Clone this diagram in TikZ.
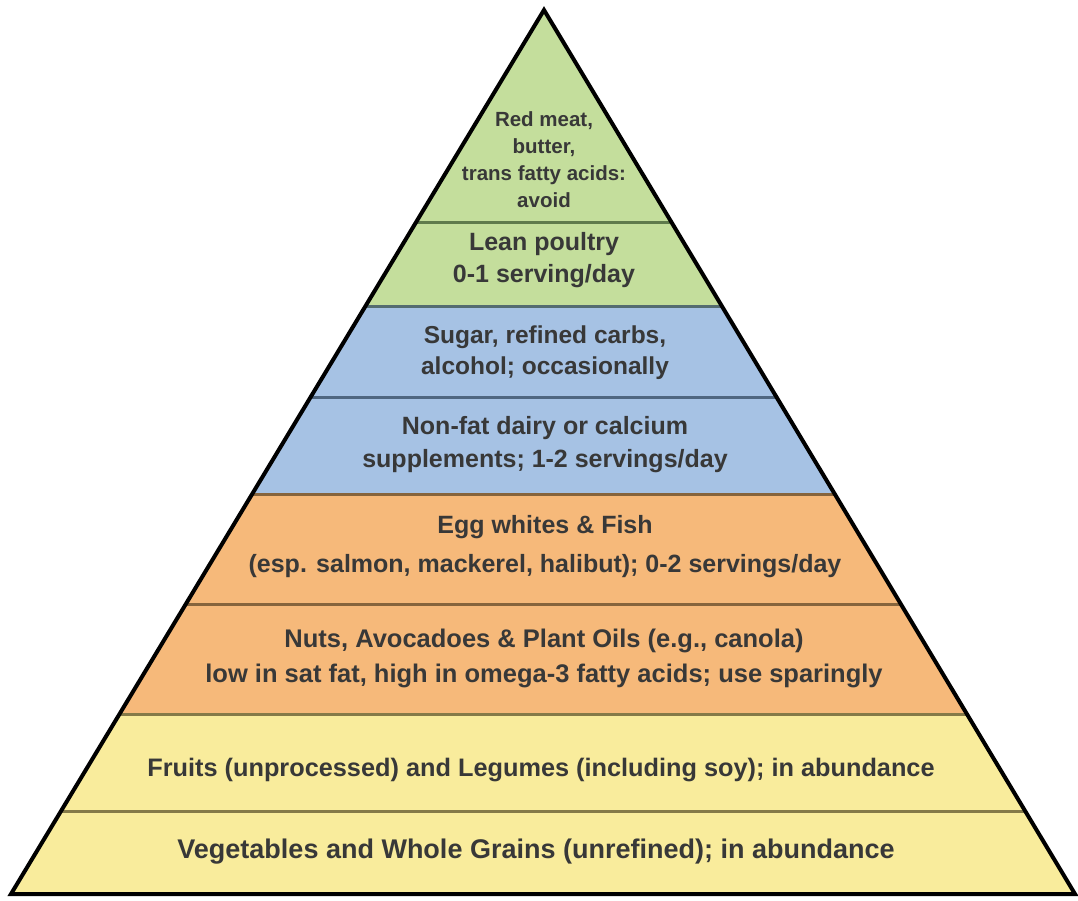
\documentclass[tikz,border=0pt]{standalone}
\usepackage{fontspec}
\setmainfont{Liberation Sans}
\definecolor{gfill}{HTML}{C4DE9C}
\definecolor{gline}{HTML}{5F7A4C}
\definecolor{bfill}{HTML}{A6C2E4}
\definecolor{bline}{HTML}{4F6680}
\definecolor{ofill}{HTML}{F6B97A}
\definecolor{oline}{HTML}{86643C}
\definecolor{yfill}{HTML}{F9EC9C}
\definecolor{yline}{HTML}{857A48}
\definecolor{txt}{HTML}{383838}
\tikzset{
  lab/.style={text=txt, align=center, inner sep=0pt},
  sep/.style={line width=3pt},
}
\newcommand{\fs}[2]{\bfseries\fontsize{#1}{#2}\selectfont}
\begin{document}
\begin{tikzpicture}[x=1pt,y=-1pt]
\useasboundingbox (0,0) rectangle (1078,900);
\fill[white] (0,0) rectangle (1078,900);
\coordinate (apex) at (544,10);
\coordinate (bl) at (11,894);
\coordinate (br) at (1075,894);
\begin{scope}
  \clip (apex) -- (bl) -- (br) -- cycle;
  \fill[gfill] (0,0) rectangle (1078,306);
  \fill[bfill] (0,306) rectangle (1078,494);
  \fill[ofill] (0,494) rectangle (1078,714);
  \fill[yfill] (0,714) rectangle (1078,900);
  \draw[sep, gline] (0,222) -- (1078,222);
  \draw[sep, bline!70!gline] (0,306) -- (1078,306);
  \draw[sep, bline] (0,397) -- (1078,397);
  \draw[sep, oline] (0,494) -- (1078,494);
  \draw[sep, oline] (0,604) -- (1078,604);
  \draw[sep, yline] (0,714) -- (1078,714);
  \draw[sep, yline] (0,811) -- (1078,811);
\end{scope}
\draw[line width=4pt, line join=miter] (apex) -- (bl) -- (br) -- cycle;
\node[lab, font=\fs{20.5}{27}] (t1) at (544,160) {Red meat,\\butter,\\trans fatty acids:\\avoid};
\node[lab, font=\fs{25}{32}] (t2) at (544,260) {Lean poultry\\0-1 serving/day};
\node[lab, font=\fs{24.5}{31}] (t3) at (545,353) {Sugar, refined carbs,\\alcohol; occasionally};
\node[lab, font=\fs{25}{33}] (t4) at (545,445) {Non-fat dairy or calcium\\supplements; 1-2 servings/day};
\node[lab, font=\fs{25}{39}] (t5) at (545,547) {Egg whites \& Fish\\(esp. salmon, mackerel, halibut); 0-2 servings/day};
\node[lab, font=\fs{25.5}{35}] (t6) at (544,658) {Nuts, Avocadoes \& Plant Oils (e.g., canola)\\low in sat fat, high in omega-3 fatty acids; use sparingly};
\node[lab, font=\fs{25.3}{31}] (t7) at (541,770) {Fruits (unprocessed) and Legumes (including soy); in abundance};
\node[lab, font=\fs{27}{31}] (t8) at (536,852) {Vegetables and Whole Grains (unrefined); in abundance};
\end{tikzpicture}
\end{document}
